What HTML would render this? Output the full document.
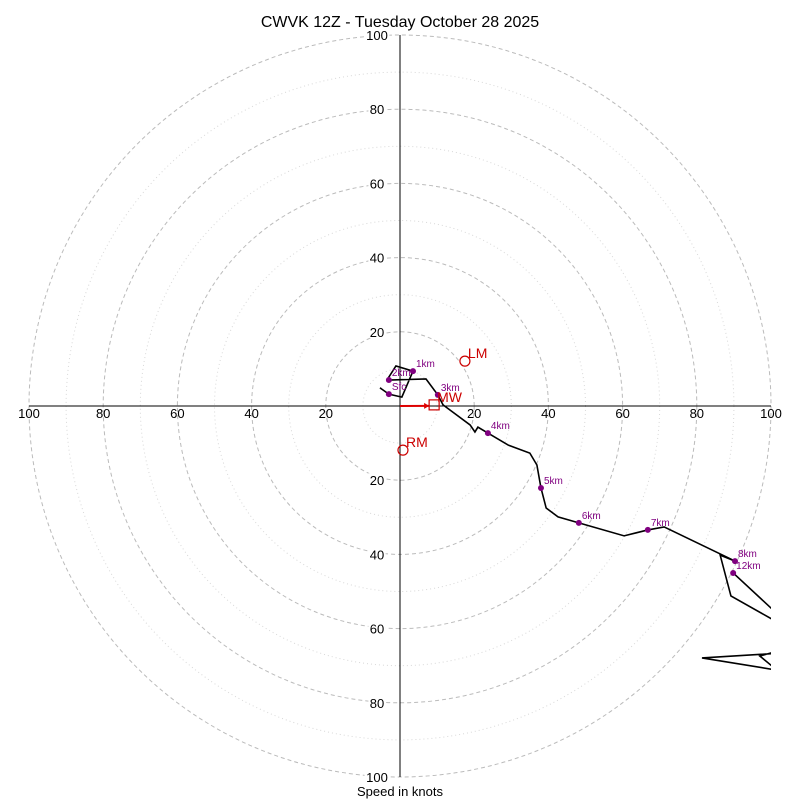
<!DOCTYPE html>
<html><head><meta charset="utf-8"><style>
body{margin:0;background:#fff;}
svg{display:block;font-family:"Liberation Sans",sans-serif;}
</style></head><body>
<svg id="c" width="800" height="800">
<text x="400" y="27" text-anchor="middle" font-size="16">CWVK 12Z - Tuesday October 28 2025</text>
<text x="400" y="796" text-anchor="middle" font-size="13">Speed in knots</text>
<defs><clipPath id="clip"><rect x="29" y="35" width="742" height="742"/></clipPath></defs>
<g id="grid"></g><g id="axes"></g><g id="plot" clip-path="url(#clip)"></g><g id="marks"></g><g id="ticks"></g>
</svg>
<script>
const pathU=[-5.4,-3.0,0.5,3.5,-1.1,-3.2,-3.0,7.0,10.2,11.6,18.9,20.2,21.0,23.7,29.1,35.0,36.9,38.0,39.4,42.6,48.2,60.4,66.8,71.2,90.3,86.3,89.2,107.8,121,107.8,81.4,107.8,113.2,107.8,97.0,107.8,115.9,107.8,89.8];
const pathV=[4.9,3.2,2.4,9.4,10.8,7.5,7.0,7.3,3.0,0.3,-5.1,-7.0,-5.7,-7.3,-10.5,-12.7,-15.9,-22.1,-27.5,-29.9,-31.5,-35.0,-33.4,-32.6,-41.8,-40.2,-51.2,-61.7,-63,-66.3,-67.9,-72.2,-79.2,-76.3,-67.4,-64.4,-57.7,-61.7,-45.0];
const hLabels=["Sfc","1km","2km","3km","4km","5km","6km","7km","8km","12km"];
const hU=[-3.0,3.5,-3.0,10.2,23.7,38.0,48.2,66.8,90.3,89.8];
const hV=[3.2,9.4,7.0,3.0,-7.3,-22.1,-31.5,-33.4,-41.8,-45.0];
const ticks=[20,40,60,80,100];
const motionNames=["LM","RM","MW"];
const motionU=[17.5,0.8,9.2];
const motionV=[12.1,-11.9,0.3];
const cx=400,cy=406,k=3.71;
const X=u=>cx+u*k, Y=v=>cy-v*k;
const NS="http://www.w3.org/2000/svg";
function mk(t,a,p){const e=document.createElementNS(NS,t);for(const q in a)e.setAttribute(q,a[q]);p.appendChild(e);return e;}
const grid=document.getElementById('grid');
for(let r=10;r<=100;r+=10){
 const e=mk('circle',{cx:cx,cy:cy,r:r*k,fill:'none',stroke:r%20?'#d8d8d8':'#bbb','stroke-width':1,'stroke-dasharray':r%20?'1,3':'4,3'},grid);
 
 
}
const ax=document.getElementById('axes');
let l=mk('line',{x1:X(-100),y1:cy,x2:X(100),y2:cy,stroke:'#000'},ax);


l=mk('line',{x1:cx,y1:Y(100),x2:cx,y2:Y(-100),stroke:'#000'},ax);


const plot=document.getElementById('plot');
const pts=pathU.map((u,i)=>X(u)+','+Y(pathV[i])).join(' ');
const pl=mk('polyline',{points:pts,fill:'none',stroke:'#000','stroke-width':1.6},plot);


const marks=document.getElementById('marks');
hLabels.forEach((s,i)=>{
 const d=mk('circle',{cx:X(hU[i]),cy:Y(hV[i]),r:3,fill:'#800080'},marks);
 
 
 const t=mk('text',{x:X(hU[i])+3,y:Y(hV[i])-4,'font-size':10,fill:'#800080'},marks);
 t.textContent=s;
 
 
});
const ar=mk('line',{x1:cx,y1:cy,x2:X(motionU[2])-5,y2:Y(motionV[2])+1,stroke:'#d00','stroke-width':2},marks);


const ah=mk('polygon',{points:(X(motionU[2])-5)+','+(Y(motionV[2])+1)+' '+(X(motionU[2])-10)+','+(Y(motionV[2])-2)+' '+(X(motionU[2])-10)+','+(Y(motionV[2])+4),fill:'#d00'},marks);


motionNames.forEach((s,i)=>{
 const x=X(motionU[i]),y=Y(motionV[i]);
 const m=s==='MW'?mk('rect',{x:x-5,y:y-5,width:10,height:10,fill:'none',stroke:'#c00','stroke-width':1.2},marks):mk('circle',{cx:x,cy:y,r:5,fill:'none',stroke:'#c00','stroke-width':1.2},marks);
 
 
 const t=mk('text',{x:x+3,y:y-3,'font-size':14,fill:'#c00'},marks);
 t.textContent=s;
 
 
});
const tg=document.getElementById('ticks');
function lab(x,y,s,nm,bg){
 const w=s.length*7.6+2;
 if(bg) mk('rect',{x:x-w/2,y:y-7,width:w,height:13,fill:'#fff'},tg);
 const t=mk('text',{x:x,y:y+5,'text-anchor':'middle','font-size':13},tg);
 t.textContent=s;
 
 
}
ticks.forEach(v=>{
 lab(X(v),cy+7,String(v),'x-tick-right-'+v,false);
 lab(X(-v),cy+7,String(v),'x-tick-left-'+v,false);
 lab(cx-23,Y(v),String(v),'y-tick-top-'+v,true);
 lab(cx-23,Y(-v),String(v),'y-tick-bottom-'+v,true);
});
</script>
</body></html>
